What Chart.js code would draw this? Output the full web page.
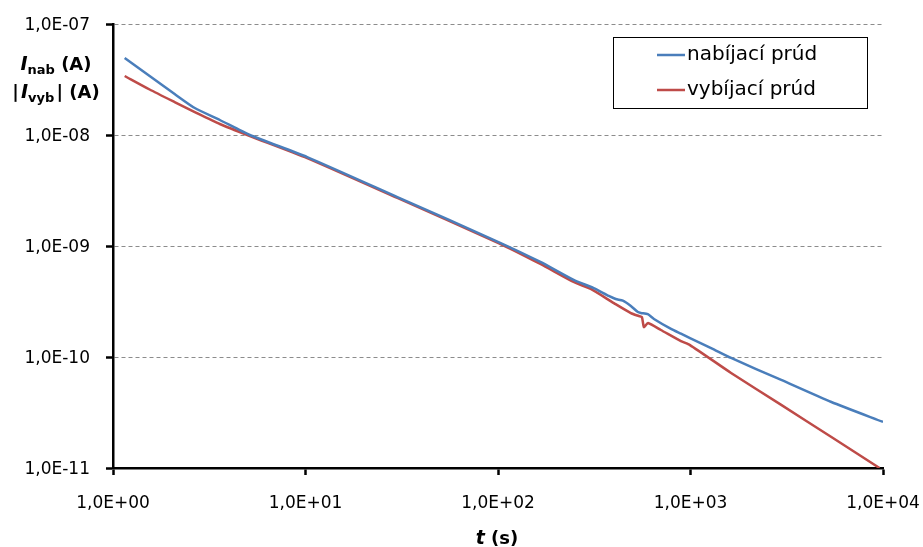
<!DOCTYPE html>
<html lang="sk">
<head>
    <meta charset="UTF-8">
    <title>Nabíjací a vybíjací prúd</title>
    <script src="https://cdn.jsdelivr.net/npm/chart.js"></script>
    <style>
        html, body {
            margin: 0;
            padding: 0;
            background: #ffffff;
        }
        .wrap {
            width: 923px;
            height: 547px;
        }
    </style>
</head>
<body>
    <div class="wrap">
        <canvas id="currentChart" width="923" height="547"></canvas>
    </div>

    <script>
        // nabíjací prúd (čas v s, prúd v A)
        var nabT = [1.15, 1.55, 2.09, 2.66, 3.59, 5.14, 10.2, 30, 100.6, 166, 247, 314, 376, 409, 445, 490, 533, 552, 600, 646, 792, 892, 994, 1279, 1625, 2960, 5393, 10000];
        var nabI = [4.94e-8, 3.40e-8, 2.34e-8, 1.75e-8, 1.365e-8, 1.0e-8, 6.33e-9, 2.76e-9, 1.086e-9, 7.18e-10, 4.94e-10, 4.18e-10, 3.55e-10, 3.33e-10, 3.22e-10, 2.88e-10, 2.54e-10, 2.49e-10, 2.43e-10, 2.20e-10, 1.79e-10, 1.62e-10, 1.48e-10, 1.205e-10, 9.8e-11, 6.21e-11, 3.93e-11, 2.6e-11];

        // vybíjací prúd (absolútna hodnota)
        var vybT = [1.15, 1.55, 2.09, 2.66, 3.59, 5.14, 10.2, 30, 100.6, 166, 247, 303, 400, 490, 539, 559, 573, 601, 702, 892, 994, 1625, 2960, 5393, 9590];
        var vybI = [3.40e-8, 2.57e-8, 1.98e-8, 1.61e-8, 1.256e-8, 9.8e-9, 6.2e-9, 2.71e-9, 1.064e-9, 6.89e-10, 4.74e-10, 4.10e-10, 3.06e-10, 2.49e-10, 2.34e-10, 2.29e-10, 1.86e-10, 2.02e-10, 1.75e-10, 1.39e-10, 1.28e-10, 7.18e-11, 3.70e-11, 1.90e-11, 1.0e-11];

        var xTicks = [1, 10, 100, 1000, 10000];
        var yTicks = [1e-11, 1e-10, 1e-9, 1e-8, 1e-7];

        var seriesLabels = ['nabíjací prúd', 'vybíjací prúd'];
        var seriesColors = ['#4A7EBB', '#BE4B48'];

        function toPoints(xs, ys) {
            var pts = [];
            for (var i = 0; i < xs.length; i++) {
                pts.push({ x: xs[i], y: ys[i] });
            }
            return pts;
        }

        // formát ako v Exceli: 1,0E-07
        function sciLabel(v) {
            var e = Math.round(Math.log10(v));
            var m = v / Math.pow(10, e);
            var sign = e < 0 ? '-' : '+';
            return m.toFixed(1).replace('.', ',') + 'E' + sign + String(Math.abs(e)).padStart(2, '0');
        }

        // legenda s rámikom
        var legendBox = {
            id: 'legendBox',
            afterDraw: function (chart) {
                var ctx = chart.ctx;
                ctx.save();
                ctx.fillStyle = '#ffffff';
                ctx.fillRect(613.5, 37.5, 254, 71);
                ctx.strokeStyle = '#000000';
                ctx.lineWidth = 1;
                ctx.strokeRect(613.5, 37.5, 254, 71);
                ctx.font = '20px "DejaVu Sans"';
                ctx.textBaseline = 'middle';
                ctx.textAlign = 'left';
                var rows = [55, 90];
                chart.data.datasets.forEach(function (ds, i) {
                    ctx.strokeStyle = ds.borderColor;
                    ctx.lineWidth = 2.5;
                    ctx.beginPath();
                    ctx.moveTo(657, rows[i]);
                    ctx.lineTo(685, rows[i]);
                    ctx.stroke();
                    ctx.fillStyle = '#000000';
                    ctx.fillText(ds.label, 687, rows[i]);
                });
                ctx.restore();
            }
        };

        // nadpisy osí s indexmi
        function drawRich(ctx, parts, cx, baseline) {
            var total = 0;
            parts.forEach(function (p) {
                ctx.font = p.font;
                total += ctx.measureText(p.text).width;
            });
            var x = cx - total / 2;
            parts.forEach(function (p) {
                ctx.font = p.font;
                ctx.fillText(p.text, x, baseline + (p.dy || 0));
                x += ctx.measureText(p.text).width;
            });
        }

        var axisTitles = {
            id: 'axisTitles',
            afterDraw: function (chart) {
                var ctx = chart.ctx;
                var big = 'bold 18px "DejaVu Sans"';
                var ital = 'italic bold 19px "DejaVu Sans"';
                var sub = 'bold 13px "DejaVu Sans"';
                var gap = 'bold 6px "DejaVu Sans"';
                ctx.save();
                ctx.fillStyle = '#000000';
                ctx.textAlign = 'left';
                ctx.textBaseline = 'alphabetic';
                drawRich(ctx, [
                    { text: 'I', font: ital },
                    { text: 'nab', font: sub, dy: 4 },
                    { text: ' (A)', font: big }
                ], 56, 70);
                drawRich(ctx, [
                    { text: '|', font: big },
                    { text: ' ', font: gap },
                    { text: 'I', font: ital },
                    { text: 'vyb', font: sub, dy: 4 },
                    { text: ' ', font: gap },
                    { text: '| (A)', font: big }
                ], 56, 98);
                drawRich(ctx, [
                    { text: 't', font: ital },
                    { text: ' (s)', font: big }
                ], 497, 544);
                ctx.restore();
            }
        };

        var ctx = document.getElementById('currentChart').getContext('2d');
        var currentChart = new Chart(ctx, {
            type: 'line',
            data: {
                datasets: [{
                    label: seriesLabels[0],
                    data: toPoints(nabT, nabI),
                    borderColor: seriesColors[0],
                    backgroundColor: seriesColors[0],
                    borderWidth: 2.5,
                    pointRadius: 0,
                    tension: 0.2,
                    fill: false
                }, {
                    label: seriesLabels[1],
                    data: toPoints(vybT, vybI),
                    borderColor: seriesColors[1],
                    backgroundColor: seriesColors[1],
                    borderWidth: 2.5,
                    pointRadius: 0,
                    tension: 0.2,
                    fill: false
                }]
            },
            options: {
                responsive: false,
                animation: false,
                layout: {
                    padding: { left: 0, right: 40, top: 24, bottom: 0 }
                },
                plugins: {
                    legend: { display: false },
                    tooltip: { enabled: false }
                },
                scales: {
                    x: {
                        type: 'logarithmic',
                        min: 1,
                        max: 10000,
                        afterBuildTicks: function (scale) {
                            scale.ticks = xTicks.map(function (v) { return { value: v }; });
                        },
                        afterFit: function (scale) {
                            scale.height = 79;
                            scale.paddingLeft = 0;
                            scale.paddingRight = 0;
                        },
                        ticks: {
                            autoSkip: false,
                            maxRotation: 0,
                            padding: 18,
                            color: '#000000',
                            font: { family: 'DejaVu Sans', size: 17 },
                            callback: function (v) { return sciLabel(v); }
                        },
                        grid: {
                            drawOnChartArea: false,
                            drawTicks: true,
                            tickLength: 7,
                            tickWidth: 2.5,
                            tickColor: '#000000'
                        },
                        border: { display: true, color: '#000000', width: 2.5 }
                    },
                    y: {
                        type: 'logarithmic',
                        min: 1e-11,
                        max: 1e-7,
                        afterBuildTicks: function (scale) {
                            scale.ticks = yTicks.map(function (v) { return { value: v }; });
                        },
                        afterFit: function (scale) {
                            scale.width = 113;
                            scale.paddingTop = 0;
                            scale.paddingBottom = 0;
                        },
                        ticks: {
                            autoSkip: false,
                            padding: 16,
                            labelOffset: 2,
                            color: '#000000',
                            font: { family: 'DejaVu Sans', size: 17 },
                            callback: function (v) { return sciLabel(v); }
                        },
                        grid: {
                            drawOnChartArea: true,
                            color: '#8c8c8c',
                            lineWidth: 1,
                            drawTicks: true,
                            tickLength: 7,
                            tickWidth: 2.5,
                            tickColor: '#000000'
                        },
                        border: { display: true, color: '#000000', width: 2.5, dash: [4, 3] }
                    }
                }
            },
            plugins: [legendBox, axisTitles]
        });
    </script>
</body>
</html>
